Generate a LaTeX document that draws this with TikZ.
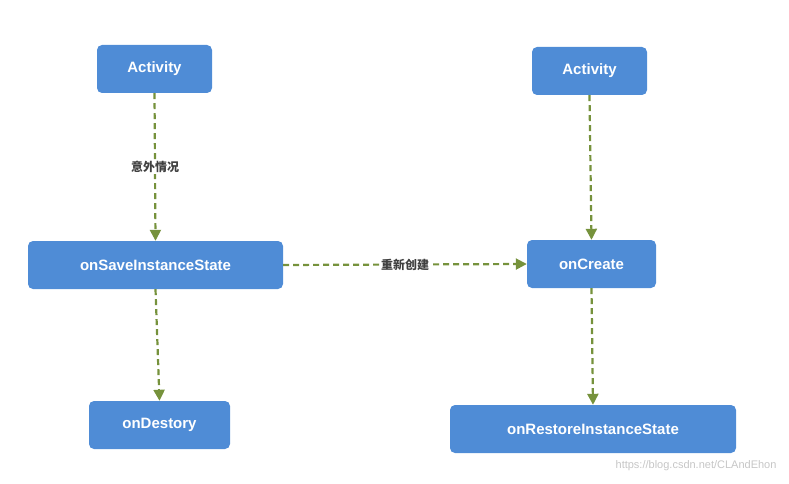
\documentclass[tikz,border=0pt]{standalone}
\usepackage{fontspec}
\setmainfont{Liberation Sans}
\newfontfamily\cjk{Noto Sans CJK SC}
\usetikzlibrary{arrows.meta}
\begin{document}
\begin{tikzpicture}[x=1pt,y=-1pt,
  box/.style={draw=none,fill=boxblue,rounded corners=5pt,text=white,font=\bfseries\fontsize{15}{18}\selectfont,inner sep=0pt},
  flow/.style={draw=arrgreen,line width=2.2pt,dash pattern=on 6pt off 4pt,-{Triangle[length=11pt,width=11pt]}},
  lab/.style={fill=white,text=textgray,font=\cjk\bfseries\fontsize{12}{14}\selectfont,inner sep=1pt}]
\definecolor{boxblue}{HTML}{4F8CD6}
\definecolor{arrgreen}{HTML}{76923C}
\definecolor{textgray}{HTML}{404040}
\useasboundingbox (0,0) rectangle (789,484);
\node[box,minimum width=115pt,minimum height=48pt] (a1) at (154.5,69) {Activity};
\node[box,minimum width=255pt,minimum height=48pt] (save) at (155.5,265) {onSaveInstanceState};
\node[box,minimum width=141pt,minimum height=48pt] (destroy) at (159.5,425) {onDestory};
\node[box,minimum width=115pt,minimum height=48pt] (a2) at (589.5,71) {Activity};
\node[box,minimum width=129pt,minimum height=48pt] (create) at (591.5,264) {onCreate};
\node[box,minimum width=286pt,minimum height=48pt] (restore) at (593,429) {onRestoreInstanceState};
\draw[flow] (a1.south) -- (save.north) node[midway,lab] (l1) {意外情况};
\draw[flow] (save.south) -- (destroy.north);
\draw[flow] (save.east) -- (create.west) node[midway,lab] (l2) {重新创建};
\draw[flow] (a2.south) -- (create.north);
\draw[flow] (create.south) -- (restore.north);
\node[text=gray!45,font=\fontsize{11}{13}\selectfont,anchor=east] (wm) at (780,466) {https://blog.csdn.net/CLAndEhon};
\end{tikzpicture}
\end{document}
